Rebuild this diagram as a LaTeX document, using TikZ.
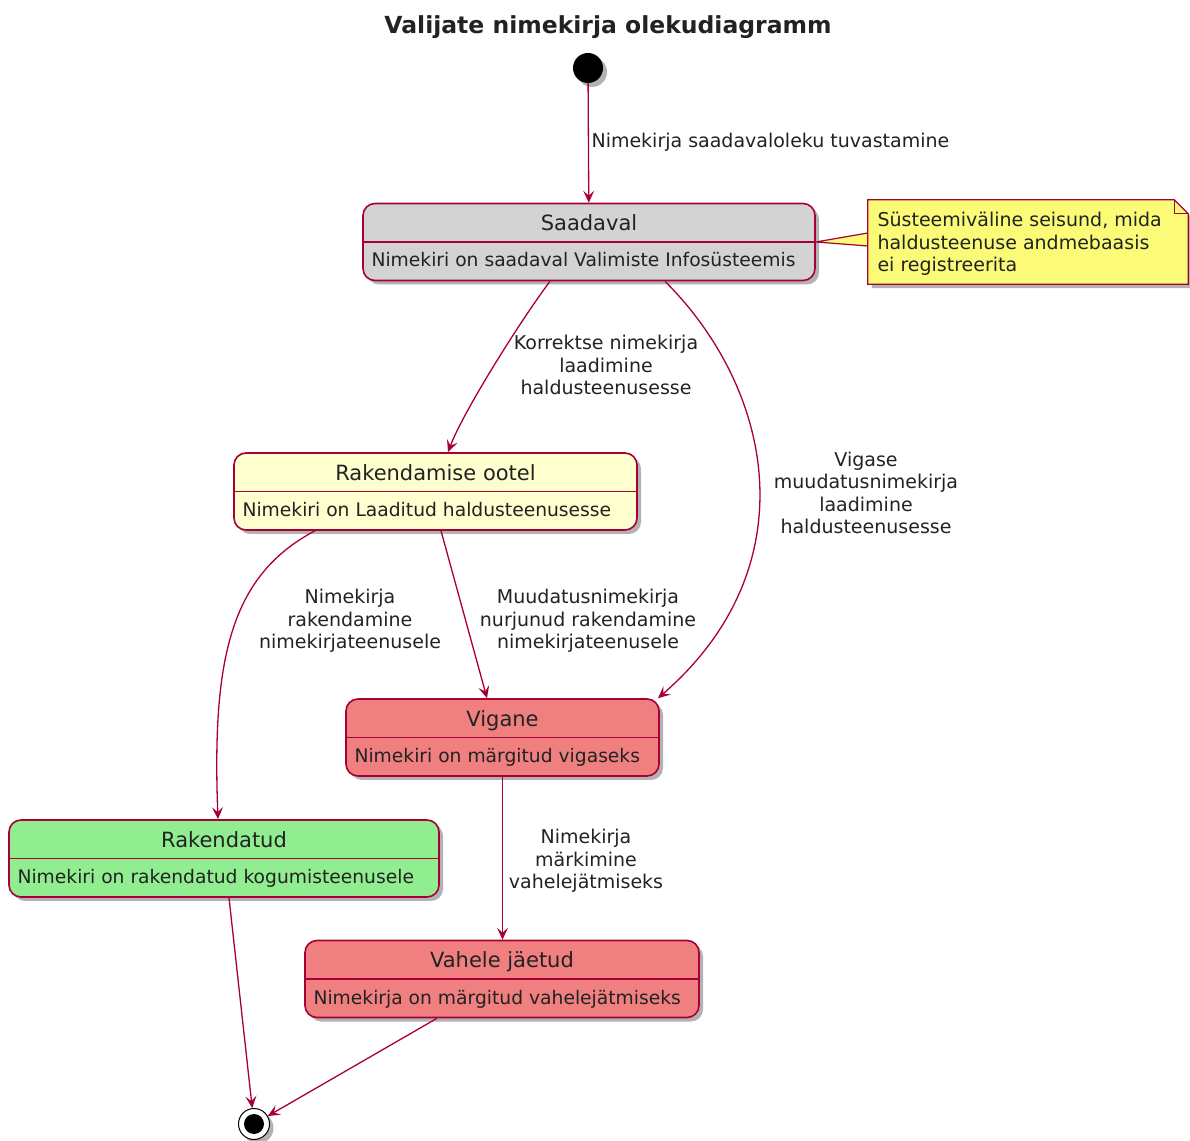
\documentclass[tikz,border=0pt]{standalone}
\usepackage{fontspec}
\setmainfont{DejaVu Sans}
\usetikzlibrary{
  arrows.meta,
  shadows,
}
\definecolor{umlred}{HTML}{A80036}
\definecolor{umlgrey}{HTML}{D3D3D3}
\definecolor{umlyellow}{HTML}{FEFECE}
\definecolor{umlcoral}{HTML}{F08080}
\definecolor{umlgreen}{HTML}{90EE90}
\definecolor{notefill}{HTML}{FBFB77}
\definecolor{umltext}{HTML}{222222}

\begin{document}
\begin{tikzpicture}[
    x=1pt, y=1pt,
    every node/.style={text=umltext},
    shade/.style={drop shadow={shadow xshift=4pt, shadow yshift=-4pt, fill=black, opacity=.3}},
    state/.style={draw=umlred, line width=1.6pt, rounded corners=12pt, minimum height=77pt, inner sep=0pt, shade},
    ttl/.style={font=\fontsize{21}{25}\selectfont, anchor=base},
    dsc/.style={font=\fontsize{18.7}{22.6}\selectfont, anchor=base west},
    lab/.style={font=\fontsize{19}{22.6}\selectfont, align=center},
    arr/.style={draw=umlred, line width=1.3pt, -{Stealth[length=12pt, width=11pt, inset=5pt]}},
  ]
  \useasboundingbox (0,0) rectangle (1190,1140);

  \node[font=\fontsize{23.5}{28}\selectfont\bfseries] (title) at (608,1113) {Valijate nimekirja olekudiagramm};

  % algus ja lopp
  \node[circle, fill=black, minimum size=30pt, inner sep=0pt, shade] (start) at (588,1072) {};
  \node[circle, draw=black, fill=white, line width=1pt, minimum size=31pt, inner sep=0pt, shade] (stop) at (254,16) {};
  \node[circle, fill=black, minimum size=20pt, inner sep=0pt] (stopdot) at (stop) {};

  % olekud
  \foreach \nm/\cx/\cy/\w/\col/\ttl/\dsc in {
      saad/589/898/452/umlgrey/Saadaval/Nimekiri on saadaval Valimiste Infosüsteemis,
      ootel/435.5/648.5/403/umlyellow/Rakendamise ootel/Nimekiri on Laaditud haldusteenusesse,
      vigane/502.5/402.5/313/umlcoral/Vigane/Nimekiri on märgitud vigaseks,
      rak/224/281.5/430/umlgreen/Rakendatud/Nimekiri on rakendatud kogumisteenusele,
      vahele/502/161/394/umlcoral/Vahele jäetud/Nimekirja on märgitud vahelejätmiseks%
    } {
      \node[state, fill=\col, minimum width=\w] (\nm) at (\cx,\cy) {};
      \draw[umlred, line width=1.6pt] (\nm.west) -- (\nm.east);
      \node[ttl] (\nm-t) at (\cx,\cy+11) {\ttl};
      \node[dsc] (\nm-d) at (\cx-\w/2+5,\cy-25) {\dsc};
    }

  % markus
  \node[minimum width=320pt, minimum height=84pt, inner sep=0pt] (note) at (1028,898) {};
  \filldraw[draw=umlred, fill=notefill, line width=1.2pt] (saad.east) -- ([yshift=9pt]note.west) -- ([yshift=-4pt]note.west) -- cycle;
  \filldraw[draw=umlred, fill=notefill, line width=1.2pt, shade] (note.south west) -- (note.north west)
    -- ([xshift=-14pt]note.north east) -- ([yshift=-14pt]note.north east) -- (note.south east) -- cycle;
  \draw[umlred, line width=1.2pt] ([xshift=-14pt]note.north east) -- ([xshift=-14pt, yshift=-14pt]note.north east)
    -- ([yshift=-14pt]note.north east);
  \node[dsc, font=\fontsize{19}{22.6}\selectfont, anchor=west, align=left] (notetext) at (874,896) {Süsteemiväline seisund, mida\\haldusteenuse andmebaasis\\ei registreerita};

  % uleminekud
  \draw[arr] (start) -- (saad);
  \draw[arr] ([xshift=-39pt]saad.south) .. controls +(-30,-40) and +(15,40) .. ([xshift=12.5pt]ootel.north);
  \draw[arr] ([xshift=76pt]saad.south) .. controls +(110,-110) and +(150,130) .. ([xshift=155.5pt]vigane.north);
  \draw[arr] ([xshift=-120.5pt]ootel.south) .. controls +(-85,-45) and +(-6,160) .. ([xshift=-6pt]rak.north);
  \draw[arr] ([xshift=5.5pt]ootel.south) -- ([xshift=-15.5pt]vigane.north);
  \draw[arr] (vigane.south) -- (vigane.south |- vahele.north);
  \draw[arr] ([xshift=5pt]rak.south) -- (stop);
  \draw[arr] ([xshift=-65pt]vahele.south) -- (stop);

  \node[lab, anchor=west] (l1) at (588,998) {Nimekirja saadavaloleku tuvastamine};
  \node[lab] (l2) at (606,775) {Korrektse nimekirja\\laadimine\\haldusteenusesse};
  \node[lab] (l3) at (866,647) {Vigase\\muudatusnimekirja\\laadimine\\haldusteenusesse};
  \node[lab] (l4) at (350,519) {Nimekirja\\rakendamine\\nimekirjateenusele};
  \node[lab] (l5) at (588,519) {Muudatusnimekirja\\nurjunud rakendamine\\nimekirjateenusele};
  \node[lab] (l6) at (586,279) {Nimekirja\\märkimine\\vahelejätmiseks};

\end{tikzpicture}
\end{document}
